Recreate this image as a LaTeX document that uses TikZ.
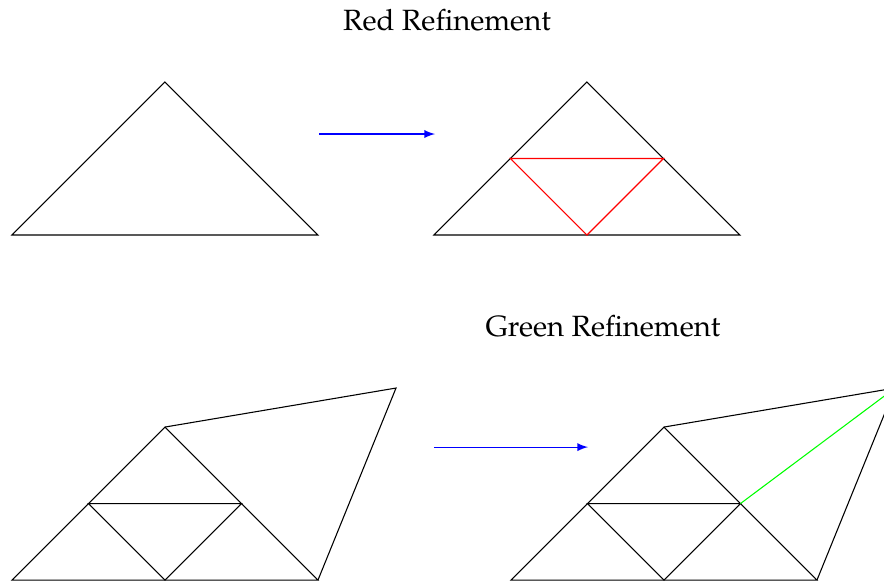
\documentclass[tikz,border=0pt]{standalone}
\usepackage[T1]{fontenc}
\usepackage{mathpazo}
\usetikzlibrary{arrows, calc}

\begin{document}
\begin{tikzpicture}[scale=2, edge/.style={black, thin}, refine/.style={blue, thin, -latex},
		title/.style={font=\fontsize{10.9}{13}\selectfont}]
		\useasboundingbox (-0.078, -0.033) rectangle (5.699, 3.791);
		\clip (-0.078, -0.033) rectangle (5.699, 3.791);
		
		% titles
		\node[title] (redtitle) at (2.843, 3.66) {Red Refinement};
		\node[title] (greentitle) at (3.863, 1.66) {Green Refinement};
		
		% red refinement, before
		\coordinate (ra) at (0, 2.255);
		\coordinate (rb) at (2, 2.255);
		\coordinate (rc) at (1, 3.255);
		\draw[edge] (ra) -- (rb) -- (rc) -- cycle;
		
		% red refinement, after
		\coordinate (sa) at (2.758, 2.255);
		\coordinate (sb) at (4.758, 2.255);
		\coordinate (sc) at (3.758, 3.255);
		\draw[edge] (sa) -- (sb) -- (sc) -- cycle;
		\draw[red, thin] ($(sa)!0.5!(sc)$) coordinate (sac) -- ($(sb)!0.5!(sc)$) coordinate (sbc)
		-- ($(sa)!0.5!(sb)$) coordinate (sab) -- cycle;
		
		\coordinate (rarrow1) at (2.007, 2.915);
		\coordinate (rarrow2) at (2.765, 2.915);
		\draw[refine] (rarrow1) -- (rarrow2);
		
		% green refinement, before
		\coordinate (ga) at (0, 0);
		\coordinate (gb) at (2, 0);
		\coordinate (gc) at (1, 1);
		\coordinate (gd) at (2.51, 1.255);
		\draw[edge] (ga) -- (gb) -- (gc) -- cycle;
		\draw[edge] (gc) -- (gd) -- (gb);
		\draw[edge] (0.5, 0.5) -- (1.5, 0.5) -- (1, 0) -- cycle;
		
		% green refinement, after
		\coordinate (ha) at (3.261, 0);
		\coordinate (hb) at (5.261, 0);
		\coordinate (hc) at (4.261, 1);
		\coordinate (hd) at (5.771, 1.255);
		\draw[edge] (ha) -- (hb) -- (hc) -- cycle;
		\draw[edge] (hc) -- (hd) -- (hb);
		\draw[edge] (3.761, 0.5) coordinate (hac) -- (4.761, 0.5) coordinate (hbc)
		-- (4.261, 0) coordinate (hab) -- cycle;
		\draw[green, thin] (hbc) -- (hd);
		
		\coordinate (garrow1) at (2.758, 0.869);
		\coordinate (garrow2) at (3.765, 0.869);
		\draw[refine] (garrow1) -- (garrow2);
	\end{tikzpicture}
\end{document}
